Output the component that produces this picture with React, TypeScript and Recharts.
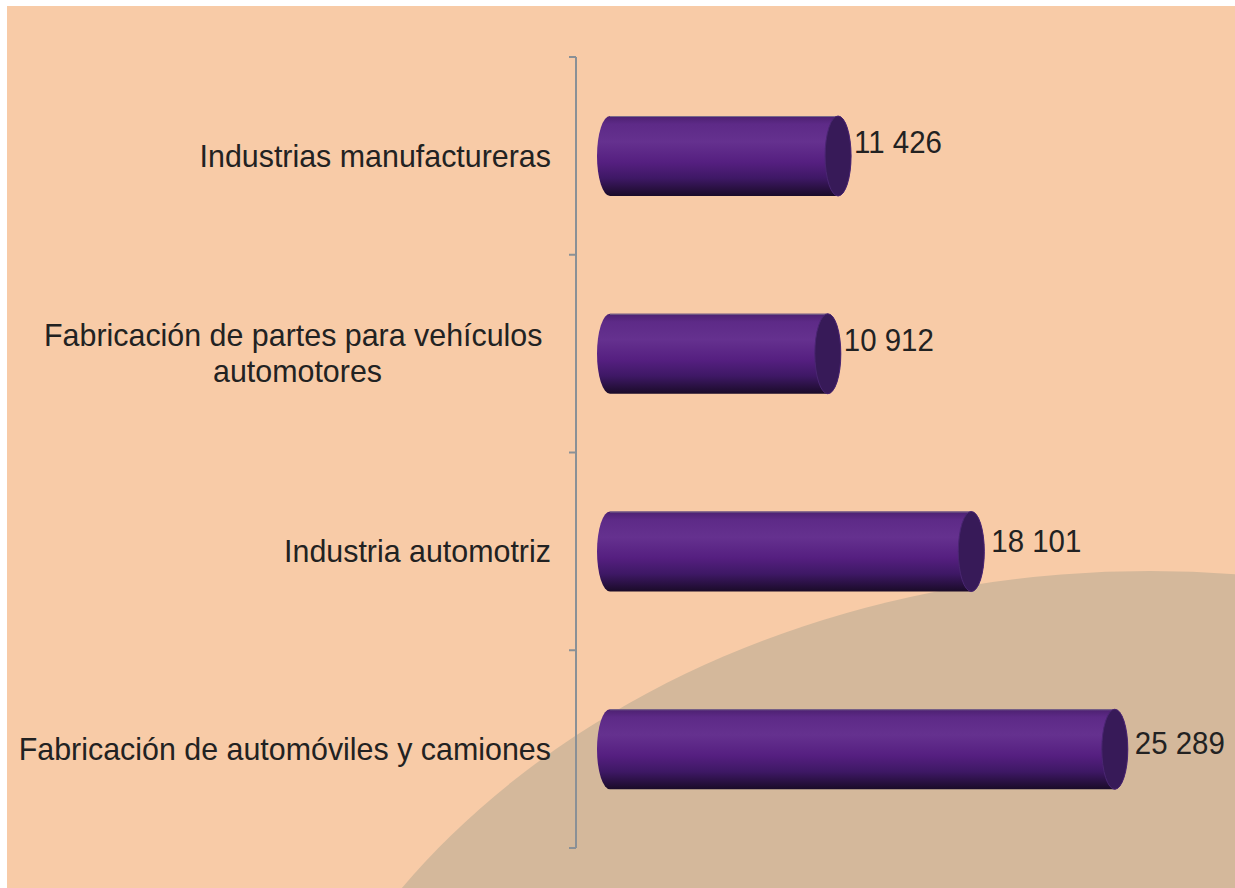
import { BarChart, Bar, XAxis, YAxis, LabelList } from "recharts";

const categories = [
  "Industrias manufactureras",
  "Fabricación de partes para vehículos automotores",
  "Industria automotriz",
  "Fabricación de automóviles y camiones",
];
// how each category label wraps in the picture
const categoryLines = [
  ["Industrias manufactureras"],
  ["Fabricación de partes para vehículos", "automotores"],
  ["Industria automotriz"],
  ["Fabricación de automóviles y camiones"],
];
const values = [11426, 10912, 18101, 25289];

const data = categories.map((name, i) => ({ name, value: values[i] }));

const W = 1235;
const H = 888;
const AXIS_X = 576;
const PLOT_TOP = 57;
const PLOT_BOTTOM = 848;
const CAP_RX = 13;
const FONT = "'Liberation Sans', Arial, sans-serif";
const CAT_SIZE = 32;
const VAL_SIZE = 31;
const SQUEEZE = 0.95;
// small per-bar nudges of the value labels, as placed in the original
const LABEL_NUDGE = [
  { dx: 0, dy: -14 },
  { dx: 0, dy: -14 },
  { dx: 4, dy: -10 },
  { dx: 4, dy: -6 },
];

const fmt = (v: number) => String(v).replace(/\B(?=(\d{3})+(?!\d))/g, " ");

let measureCtx: CanvasRenderingContext2D | null = null;
function textWidth(s: string) {
  if (!measureCtx) measureCtx = document.createElement("canvas").getContext("2d");
  if (!measureCtx) return s.length * 15;
  measureCtx.font = `${CAT_SIZE}px ${FONT}`;
  return measureCtx.measureText(s).width * SQUEEZE;
}

function Squeezed({ x, y, size, anchor, children }: any) {
  return (
    <text
      transform={`translate(${x} ${y}) scale(${SQUEEZE} 1)`}
      textAnchor={anchor}
      dominantBaseline="central"
      fontFamily={FONT}
      fontSize={size}
      fill="#222"
    >
      {children}
    </text>
  );
}

function CategoryTick(props: any) {
  const { y, index } = props;
  const band = (PLOT_BOTTOM - PLOT_TOP) / categories.length;
  const lines: string[] = categoryLines[index] || [props.payload.value];
  const right = AXIS_X - 25;
  const lineH = 36;
  const space = textWidth(" ");
  const boxes = lines.map((l, i) => textWidth(l) + (i < lines.length - 1 ? space : 0));
  const block = Math.max(...boxes);
  const center = right - block / 2;
  return (
    <g>
      <line x1={AXIS_X - 7} x2={AXIS_X} y1={y - band / 2} y2={y - band / 2} stroke="#8a9096" strokeWidth={2} />
      {index === categories.length - 1 && (
        <line x1={AXIS_X - 7} x2={AXIS_X} y1={y + band / 2} y2={y + band / 2} stroke="#8a9096" strokeWidth={2} />
      )}
      {lines.map((l, i) => (
        <Squeezed
          key={i}
          x={center - boxes[i] / 2}
          y={y + (i - (lines.length - 1) / 2) * lineH}
          size={CAT_SIZE}
          anchor="start"
        >
          {l}
        </Squeezed>
      ))}
    </g>
  );
}

function Cylinder(props: any) {
  const { x, y, width, height } = props;
  const ry = height / 2;
  const d = `M${x},${y} L${x + width},${y} A${CAP_RX},${ry} 0 0 1 ${x + width},${y + height} L${x},${y + height} A${CAP_RX},${ry} 0 0 1 ${x},${y} Z`;
  return (
    <g>
      <path d={d} fill="url(#cylBody)" />
      <line x1={x} x2={x + width} y1={y + 0.5} y2={y + 0.5} stroke="#7a6a8a" strokeWidth={1} />
      <ellipse cx={x + width} cy={y + ry} rx={CAP_RX} ry={ry} fill="#371a58" stroke="#4a2672" strokeWidth={1} />
    </g>
  );
}

function ValueLabel(props: any) {
  const { x, y, width, height, value, index } = props;
  const n = LABEL_NUDGE[index] || { dx: 0, dy: -10 };
  return (
    <Squeezed x={x + width + CAP_RX + 3 + n.dx} y={y + height / 2 + n.dy} size={VAL_SIZE} anchor="start">
      {fmt(value)}
    </Squeezed>
  );
}

export default function App() {
  return (
    <div style={{ position: "absolute", left: 0, top: 0, width: W, height: H, background: "#fff", overflow: "hidden" }}>
      <div style={{ position: "absolute", left: 7, top: 6, right: 0, bottom: 0, background: "#f8cba7", overflow: "hidden" }}>
        <div
          style={{
            position: "absolute",
            left: 238,
            top: 565,
            width: 1810,
            height: 1450,
            borderRadius: "50%",
            background: "#d4b89b",
          }}
        />
      </div>
      <div style={{ position: "absolute", left: 0, top: 0 }}>
        <BarChart
          width={W}
          height={H}
          data={data}
          layout="vertical"
          margin={{ top: PLOT_TOP, right: 106, bottom: H - PLOT_BOTTOM, left: 0 }}
          barSize={80}
        >
          <defs>
            <linearGradient id="cylBody" x1="0" y1="0" x2="0" y2="1">
              <stop offset="0%" stopColor="#4c2070" />
              <stop offset="10%" stopColor="#5d2a87" />
              <stop offset="32%" stopColor="#65318f" />
              <stop offset="58%" stopColor="#551f80" />
              <stop offset="78%" stopColor="#3e1865" />
              <stop offset="100%" stopColor="#1a0b28" />
            </linearGradient>
          </defs>
          <XAxis type="number" hide domain={[0, 26000]} padding={{ left: 34, right: 0 }} />
          <YAxis
            type="category"
            dataKey="name"
            width={AXIS_X}
            axisLine={{ stroke: "#8a9096", strokeWidth: 2 }}
            tickLine={false}
            tick={<CategoryTick />}
            interval={0}
          />
          <Bar dataKey="value" shape={<Cylinder />} isAnimationActive={false}>
            <LabelList dataKey="value" content={<ValueLabel />} />
          </Bar>
        </BarChart>
      </div>
    </div>
  );
}
